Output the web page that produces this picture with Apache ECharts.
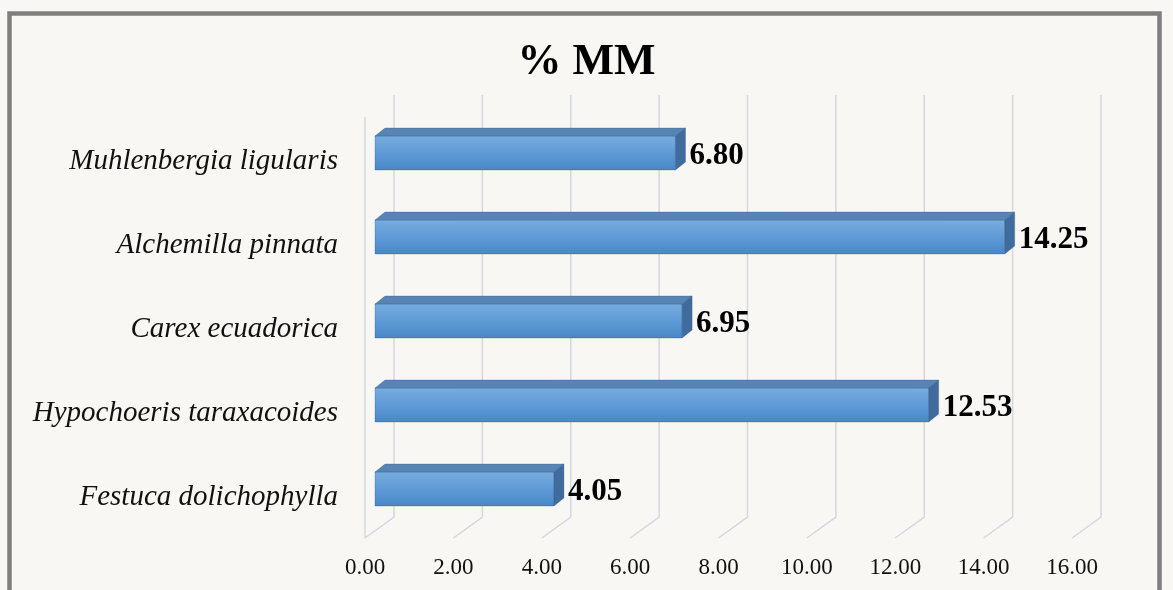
<!DOCTYPE html>
<html>
<head>
<meta charset="utf-8">
<script src="https://cdn.jsdelivr.net/npm/echarts@6/dist/echarts.min.js"></script>
<style>
  html, body { margin: 0; padding: 0; background: #f8f7f4; }
  #chart { width: 1173px; height: 590px; }
</style>
</head>
<body>
<div id="chart"></div>
<script>
// Species (bottom to top) and their % MM values
const categories = [
  'Festuca dolichophylla',
  'Hypochoeris taraxacoides',
  'Carex ecuadorica',
  'Alchemilla pinnata',
  'Muhlenbergia ligularis'
];
const values = [4.05, 12.53, 6.95, 14.25, 6.80];
const ticks = [0, 2, 4, 6, 8, 10, 12, 14, 16];

const SERIF = "'Liberation Serif', 'Times New Roman', serif";
// pseudo-3D offsets (pixels)
const BAR_DX = 10, BAR_DY = -8;
const WALL_BACK = 19, WALL_FRONT = -10;

const chart = echarts.init(document.getElementById('chart'), null, { renderer: 'canvas' });

// back-wall gridline with its slanted floor segment
function renderGridline(params, api) {
  const v = api.value(0);
  const cs = params.coordSys;
  const x = api.coord([v, 0])[0];
  const top = cs.y - 16;
  const backBottom = cs.y + cs.height - 14;
  const frontBottom = cs.y + cs.height + 7;
  const style = { stroke: '#d4d8e0', lineWidth: 1.5, fill: null };
  const children = [{
    type: 'polyline',
    shape: { points: [[x + WALL_BACK, top], [x + WALL_BACK, backBottom], [x + WALL_FRONT, frontBottom]] },
    style: style
  }];
  if (v === 0) {
    children.push({
      type: 'line',
      shape: { x1: x + WALL_FRONT, y1: top + 22, x2: x + WALL_FRONT, y2: frontBottom },
      style: style
    });
  }
  return { type: 'group', children: children };
}

// box-shaped bar: front face, top face, right face, value label, category name
function renderBar(params, api) {
  const idx = api.value(0);
  const val = api.value(1);
  const p0 = api.coord([0, idx]);
  const p1 = api.coord([val, idx]);
  const band = api.size([0, 1])[1];
  const h = band * 0.405;
  const x0 = p0[0], x1 = p1[0], c = p0[1];
  const yt = c - h / 2, yb = c + h / 2;
  const edge = 'rgba(40,80,130,0.35)';
  return {
    type: 'group',
    children: [
      {
        type: 'rect',
        shape: { x: x0, y: yt, width: x1 - x0, height: h },
        style: {
          fill: {
            type: 'linear', x: 0, y: 0, x2: 0, y2: 1,
            colorStops: [
              { offset: 0, color: '#78acdf' },
              { offset: 0.5, color: '#5f9bd7' },
              { offset: 1, color: '#4886c6' }
            ]
          },
          stroke: edge, lineWidth: 0.8
        }
      },
      {
        type: 'polygon',
        shape: { points: [[x0, yt], [x0 + BAR_DX, yt + BAR_DY], [x1 + BAR_DX, yt + BAR_DY], [x1, yt]] },
        style: { fill: '#5884b3', stroke: edge, lineWidth: 0.8 }
      },
      {
        type: 'polygon',
        shape: { points: [[x1, yt], [x1 + BAR_DX, yt + BAR_DY], [x1 + BAR_DX, yb + BAR_DY], [x1, yb]] },
        style: { fill: '#3f6c9c', stroke: edge, lineWidth: 0.8 }
      },
      {
        type: 'text',
        style: {
          x: x1 + BAR_DX + 4, y: c + 3,
          text: val.toFixed(2),
          font: 'bold 31px ' + SERIF,
          fill: '#000',
          align: 'left', verticalAlign: 'middle'
        }
      },
      {
        type: 'text',
        style: {
          x: x0 - 37, y: c + 8,
          text: categories[idx],
          font: 'italic 29px ' + SERIF,
          fill: '#111',
          align: 'right', verticalAlign: 'middle'
        }
      }
    ]
  };
}

const option = {
  backgroundColor: '#f8f7f4',
  animation: false,
  title: {
    text: '% MM',
    left: 'center',
    top: 36,
    textStyle: { fontFamily: SERIF, fontSize: 44, fontWeight: 'bold', color: '#000' }
  },
  graphic: [{
    type: 'rect',
    shape: { x: 9.5, y: 13.5, width: 1150, height: 620 },
    style: { fill: null, stroke: '#7f7f7f', lineWidth: 4.5 },
    silent: true
  }],
  grid: { left: 375, right: 91, top: 111, bottom: 59 },
  xAxis: {
    type: 'value',
    min: 0, max: 16, interval: 2,
    axisLine: { show: false },
    axisTick: { show: false },
    splitLine: { show: false },
    axisLabel: {
      margin: 25,
      formatter: v => v.toFixed(2),
      fontFamily: SERIF, fontSize: 23, color: '#111',
      padding: [0, 20, 0, 0]
    }
  },
  yAxis: {
    type: 'category',
    data: categories,
    axisLine: { show: false },
    axisTick: { show: false },
    splitLine: { show: false },
    axisLabel: { show: false }
  },
  series: [
    {
      type: 'custom',
      z: 1,
      renderItem: renderGridline,
      data: ticks.map(t => [t]),
      silent: true
    },
    {
      type: 'custom',
      z: 2,
      clip: false,
      renderItem: renderBar,
      encode: { x: 1, y: 0 },
      data: values.map((v, i) => [i, v])
    }
  ]
};

chart.setOption(option);
</script>
</body>
</html>
